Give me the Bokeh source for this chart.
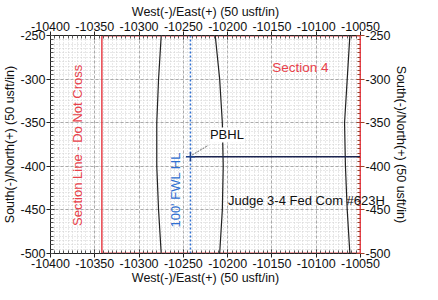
import numpy as np
from bokeh.plotting import figure
from bokeh.models import LinearAxis, Label, FixedTicker, Range1d
from bokeh.embed import file_html
from bokeh.resources import INLINE

# ---- data ----
x_ticks = [-10400, -10350, -10300, -10250, -10200, -10150, -10100, -10050]
y_ticks = [-500, -450, -400, -350, -300, -250]

section_line_x = [-10342, -10342]
section_line_y = [-500, -250]
section_top_x = [-10342, -10050]
section_top_y = [-250, -250]
section_bot_x = [-10342, -10050]
section_bot_y = [-500, -500]
section_right_x = [-10050, -10050]
section_right_y = [-500, -250]

fwl_x = [-10242, -10242]
fwl_y = [-500, -250]

curve_a_y = [-250, -300, -350, -400, -450, -500]
curve_a_x = [-10275, -10278, -10280, -10280, -10278, -10275]
curve_b_y = [-250, -300, -350, -400, -450, -500]
curve_b_x = [-10214, -10209, -10206, -10205, -10206, -10209]
curve_c_y = [-250, -300, -350, -400, -450, -500]
curve_c_x = [-10062, -10065, -10068, -10067, -10065, -10062]

pbhl_x = [-10242, -10050]
pbhl_y = [-389, -389]
leader_x = [-10240, -10222]
leader_y = [-387, -376]

FONT = "Liberation Sans"
RED = "#e8414a"
BLUE = "#2f6fd0"

p = figure(frame_width=310, frame_height=218, output_backend="svg", toolbar_location=None,
           x_range=Range1d(-10400, -10050), y_range=Range1d(-500, -250),
           min_border_left=47, min_border_top=35, min_border_bottom=30,
           min_border_right=60, background_fill_color="white",
           outline_line_color=None)

top_axis = LinearAxis()
right_axis = LinearAxis()
p.add_layout(top_axis, "above")
p.add_layout(right_axis, "right")

xstep = (x_ticks[1] - x_ticks[0]) / 10
ystep = (y_ticks[1] - y_ticks[0]) / 10
x_minor = list(np.arange(x_ticks[0], x_ticks[-1] + xstep / 2, xstep))
y_minor = list(np.arange(y_ticks[0], y_ticks[-1] + ystep / 2, ystep))
xt = FixedTicker(ticks=x_ticks, minor_ticks=x_minor)
yt = FixedTicker(ticks=y_ticks, minor_ticks=y_minor)

for ax in p.xaxis:
    ax.ticker = xt
    ax.axis_label = "West(-)/East(+) (50 usft/in)"
    ax.major_label_overrides = {t: str(t) for t in x_ticks}
for ax in p.yaxis:
    ax.ticker = yt
    ax.axis_label = "South(-)/North(+) (50 usft/in)"
    ax.major_label_overrides = {t: str(t) for t in y_ticks}

for ax in list(p.xaxis) + list(p.yaxis):
    ax.major_label_text_font = FONT
    ax.major_label_text_font_size = "12.5px"
    ax.major_label_text_color = "#111111"
    ax.axis_label_text_font = FONT
    ax.axis_label_text_font_size = "12.5px"
    ax.axis_label_text_font_style = "normal"
    ax.axis_label_text_color = "#111111"
    ax.major_label_standoff = 1
    ax.axis_label_standoff = 0
    ax.major_tick_in = 4
    ax.major_tick_out = 4
    ax.minor_tick_in = 3
    ax.minor_tick_out = 0
    ax.axis_line_color = "#222222"
    ax.major_tick_line_color = "#222222"
    ax.minor_tick_line_color = "#555555"

right_axis.axis_line_color = RED
right_axis.major_tick_line_color = "#a0402a"
right_axis.minor_tick_line_color = "#a0402a"

p.xgrid.ticker = xt
p.ygrid.ticker = yt
for g in (p.xgrid, p.ygrid):
    g.grid_line_color = "#aaaaaa"
    g.grid_line_dash = "3 2"
    g.grid_line_width = 1
    g.minor_grid_line_color = "#d0d0d0"
    g.minor_grid_line_dash = "1 2"

# section boundaries
p.line(section_line_x, section_line_y, line_color=RED, line_width=1.5)
p.line(section_top_x, section_top_y, line_color=RED, line_width=2)
p.line(section_bot_x, section_bot_y, line_color=RED, line_width=2)
p.line(section_right_x, section_right_y, line_color=RED, line_width=2)

# hardline
p.line(fwl_x, fwl_y, line_color=BLUE, line_width=1.5, line_dash="2 2")

# curves
for cx, cy in ((curve_a_x, curve_a_y), (curve_b_x, curve_b_y), (curve_c_x, curve_c_y)):
    p.line(cx, cy, line_color="#222222", line_width=1.2)

# PBHL
p.line(pbhl_x, pbhl_y, line_color="#1c2550", line_width=1.5)
p.line(leader_x, leader_y, line_color="#666666", line_width=1, line_dash="2 1")
p.scatter([pbhl_x[0]], [pbhl_y[0]], marker="cross", size=9, line_color="#1c3f8a", line_width=1.5)

p.add_layout(Label(x=-10220, y=-364, text="PBHL", text_font=FONT, text_font_size="13px",
                   text_baseline="middle", text_align="left", text_color="#111111",
                   background_fill_color="white", background_fill_alpha=1.0))
p.add_layout(Label(x=-10118, y=-287, text="Section 4", text_font=FONT, text_font_size="13.5px",
                   text_baseline="middle", text_align="center", text_color=RED))
p.add_layout(Label(x=-10111, y=-439, text="Judge 3-4 Fed Com #623H", text_font=FONT,
                   text_font_size="13px", text_baseline="middle", text_align="center",
                   text_color="#111111"), "right")
p.add_layout(Label(x=-10370, y=-376, text="Section Line - Do Not Cross", text_font=FONT,
                   text_font_size="13px", text_baseline="middle", text_align="center",
                   text_color=RED, angle=1.5708))
p.add_layout(Label(x=-10259, y=-427, text="100' FWL HL", text_font=FONT,
                   text_font_size="13px", text_baseline="middle", text_align="center",
                   text_color=BLUE, angle=1.5708))

open("out.html", "w").write(file_html(p, INLINE))
